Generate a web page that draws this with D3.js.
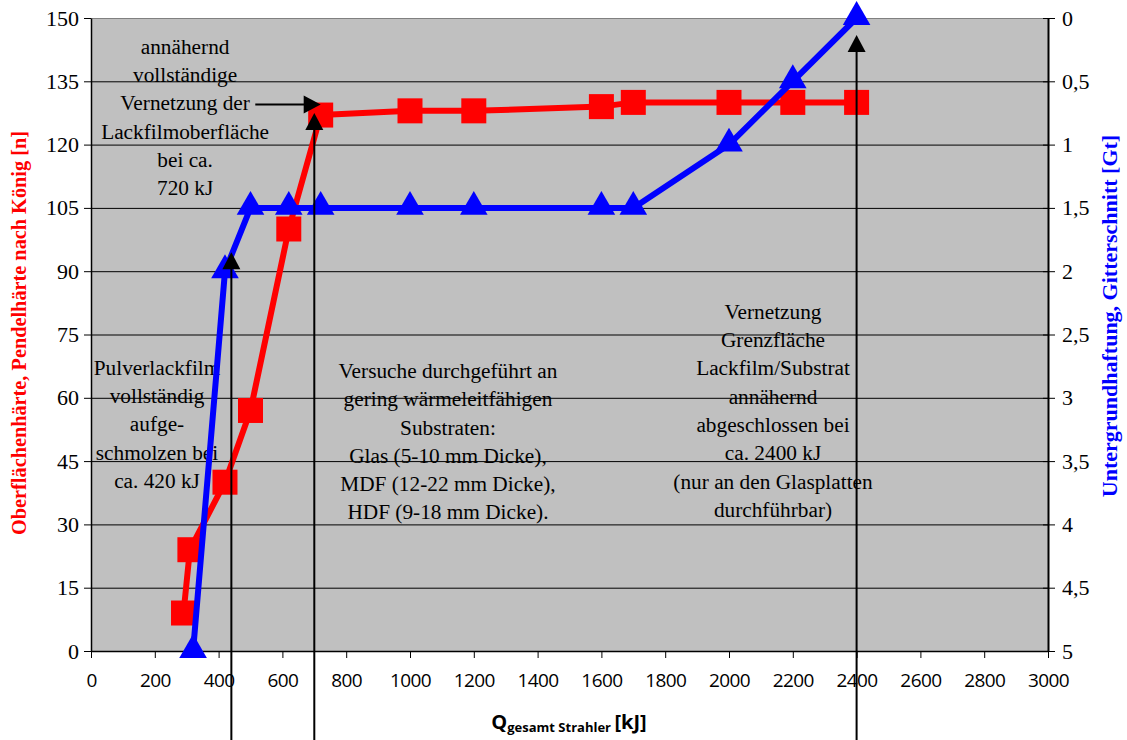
<!DOCTYPE html>
<html><head><meta charset="utf-8">
<script src="https://cdn.jsdelivr.net/npm/d3@7"></script>
<style>
html,body{margin:0;padding:0;background:#fff;}
svg{display:block;}
</style></head>
<body>
<svg id="chart" width="1127" height="740"></svg>
<script>
// ---- data ----
const hardnessQ = [290, 310, 420, 500, 620, 720, 1000, 1200, 1600, 1700, 2000, 2200, 2400];
const hardness  = [9, 24, 40, 57, 100, 127, 128, 128, 129, 130, 130, 130, 130];
const adhesionQ = [320, 420, 500, 620, 720, 1000, 1200, 1600, 1700, 2000, 2200, 2400];
const adhesion  = [5, 2, 1.5, 1.5, 1.5, 1.5, 1.5, 1.5, 1.5, 1, 0.5, 0];
const xTicks = [0,200,400,600,800,1000,1200,1400,1600,1800,2000,2200,2400,2600,2800,3000];
const yLeftTicks = [0,15,30,45,60,75,90,105,120,135,150];
const yRightTicks = [0,0.5,1,1.5,2,2.5,3,3.5,4,4.5,5];
// arrows: [xValue, tipYValue(left axis)]
const vArrows = [[440, 94.5], [700, 127.5], [2400, 146]];
const hArrow = {from: 515, to: 720, y: 129.5};
const notes = [
  {x: 295, y: 126.4, lines: ["annähernd","vollständige","Vernetzung der","Lackfilmoberfläche","bei ca.","720 kJ"]},
  {x: 207, y: 53.7, lines: ["Pulverlackfilm","vollständig","aufge-","schmolzen bei","ca. 420 kJ"]},
  {x: 1119, y: 49.6, lines: ["Versuche durchgeführt an","gering wärmeleitfähigen","Substraten:","Glas (5-10 mm Dicke),","MDF (12-22 mm Dicke),","HDF (9-18 mm Dicke)."]},
  {x: 2138, y: 56.9, lines: ["Vernetzung","Grenzfläche","Lackfilm/Substrat","annähernd","abgeschlossen bei","ca. 2400 kJ","(nur an den Glasplatten","durchführbar)"]}
];

// ---- layout ----
const svg = d3.select("#chart");
const L = 91, R = 1048, T = 18, B = 651;
const x = d3.scaleLinear().domain([0,3000]).range([L,R]);
const yL = d3.scaleLinear().domain([0,150]).range([B,T]);
const yR = d3.scaleLinear().domain([0,5]).range([T,B]);
const serif = "'Liberation Serif','Times New Roman',serif";
const sans = "'Open Sans','Noto Sans','DejaVu Sans',sans-serif";

// plot background
svg.append("rect").attr("x",L).attr("y",T).attr("width",R-L).attr("height",B-T).attr("fill","#c0c0c0");

// gridlines
svg.append("g").selectAll("line").data(yLeftTicks.filter(d=>d>0)).join("line")
  .attr("x1",L).attr("x2",R).attr("y1",d=>yL(d)+0.5).attr("y2",d=>yL(d)+0.5)
  .attr("stroke",d=>d===150?"#808080":"#000").attr("stroke-width",1);

// annotations text
const lh = 28.3;
notes.forEach(n=>{
  const cx = x(n.x), cy = yL(n.y);
  const t = svg.append("text").attr("font-family",serif).attr("font-size",21.3).attr("fill","#000")
    .attr("text-anchor","middle");
  n.lines.forEach((s,i)=>{
    t.append("tspan").attr("x",cx).attr("y",cy + (i-(n.lines.length-1)/2)*lh + 7).text(s);
  });
});

// axes
const gx = svg.append("g").attr("transform",`translate(0,${B})`)
  .call(d3.axisBottom(x).tickValues(xTicks).tickSize(7).tickSizeOuter(0).tickFormat(d3.format("d")));
gx.select(".domain").attr("stroke","#000").attr("stroke-width",1.5);
gx.selectAll(".tick line").attr("stroke","#000");
gx.selectAll(".tick text").attr("font-family",sans).attr("font-size",19).attr("y",23).attr("dy","0.71em")
  .attr("fill","#000").attr("letter-spacing","-0.6");

const gl = svg.append("g").attr("transform",`translate(${L},0)`)
  .call(d3.axisLeft(yL).tickValues(yLeftTicks).tickSize(7).tickSizeOuter(0));
gl.select(".domain").attr("stroke","#000").attr("stroke-width",1.5);
gl.selectAll(".tick line").attr("stroke","#000");
gl.selectAll(".tick text").attr("font-family",serif).attr("font-size",22).attr("x",-12).attr("fill","#000");

const fmtR = d => d3.format("~g")(d).replace(".",",");
const gr = svg.append("g").attr("transform",`translate(${R},0)`)
  .call(d3.axisRight(yR).tickValues(yRightTicks).tickSize(7).tickSizeOuter(0).tickFormat(fmtR));
gr.select(".domain").attr("stroke","#000").attr("stroke-width",2);
gr.selectAll(".tick line").attr("stroke","#000").attr("x1",-5);
gr.selectAll(".tick text").attr("font-family",serif).attr("font-size",22).attr("x",14).attr("fill","#000");

// axis titles
svg.append("text").attr("transform",`translate(26,333) rotate(-90)`)
  .attr("text-anchor","middle").attr("font-family",serif).attr("font-weight","bold").attr("font-size",20.3)
  .attr("fill","#ff0000").text("Oberflächenhärte, Pendelhärte nach König [n]");
svg.append("text").attr("transform",`translate(1117,316) rotate(-90)`)
  .attr("text-anchor","middle").attr("font-family",serif).attr("font-weight","bold").attr("font-size",22)
  .attr("fill","#0000ff").text("Untergrundhaftung, Gitterschnitt [Gt]");
const xt = svg.append("text").attr("x",569).attr("y",729).attr("text-anchor","middle")
  .attr("font-family",sans).attr("font-weight","bold").attr("fill","#000");
xt.append("tspan").attr("font-size",20).text("Q");
xt.append("tspan").attr("font-size",13).attr("dy",3).text("gesamt Strahler ");
xt.append("tspan").attr("font-size",20).attr("dy",-3).text("[kJ]");

// series
const red = hardnessQ.map((q,i)=>[q,hardness[i]]);
const blue = adhesionQ.map((q,i)=>[q,adhesion[i]]);
svg.append("path").datum(red).attr("fill","none").attr("stroke","#ff0000").attr("stroke-width",6)
  .attr("stroke-linejoin","round").attr("d",d3.line().x(d=>x(d[0])).y(d=>yL(d[1])));
svg.append("g").selectAll("rect").data(red).join("rect")
  .attr("x",d=>x(d[0])-12.5).attr("y",d=>yL(d[1])-12.5).attr("width",25).attr("height",25).attr("fill","#ff0000");

svg.append("path").datum(blue).attr("fill","none").attr("stroke","#0000ff").attr("stroke-width",6)
  .attr("stroke-linejoin","round").attr("d",d3.line().x(d=>x(d[0])).y(d=>yR(d[1])));
const tri = d3.symbol().type(d3.symbolTriangle).size(330);
svg.append("g").selectAll("path").data(blue).join("path")
  .attr("transform",d=>`translate(${x(d[0])},${yR(d[1])-1})`).attr("d",tri).attr("fill","#0000ff");

// arrows
const head = (px,py,dir)=>{ // dir: 'up' or 'right'
  const w=9, h=17;
  const pts = dir==='up' ? [[px,py],[px-w,py+h],[px+w,py+h]] : [[px,py],[px-h,py-w],[px-h,py+w]];
  svg.append("path").attr("d","M"+pts.map(p=>p.join(",")).join("L")+"Z").attr("fill","#000");
};
vArrows.forEach(a=>{
  const px = x(a[0]), py = yL(a[1]);
  svg.append("line").attr("x1",px).attr("x2",px).attr("y1",740).attr("y2",py+10).attr("stroke","#000").attr("stroke-width",2);
  head(px,py,'up');
});
{
  const py = yL(hArrow.y), x1 = x(hArrow.from), x2 = x(hArrow.to);
  svg.append("line").attr("x1",x1).attr("x2",x2-10).attr("y1",py).attr("y2",py).attr("stroke","#000").attr("stroke-width",2);
  head(x2,py,'right');
}
</script>
</body></html>
